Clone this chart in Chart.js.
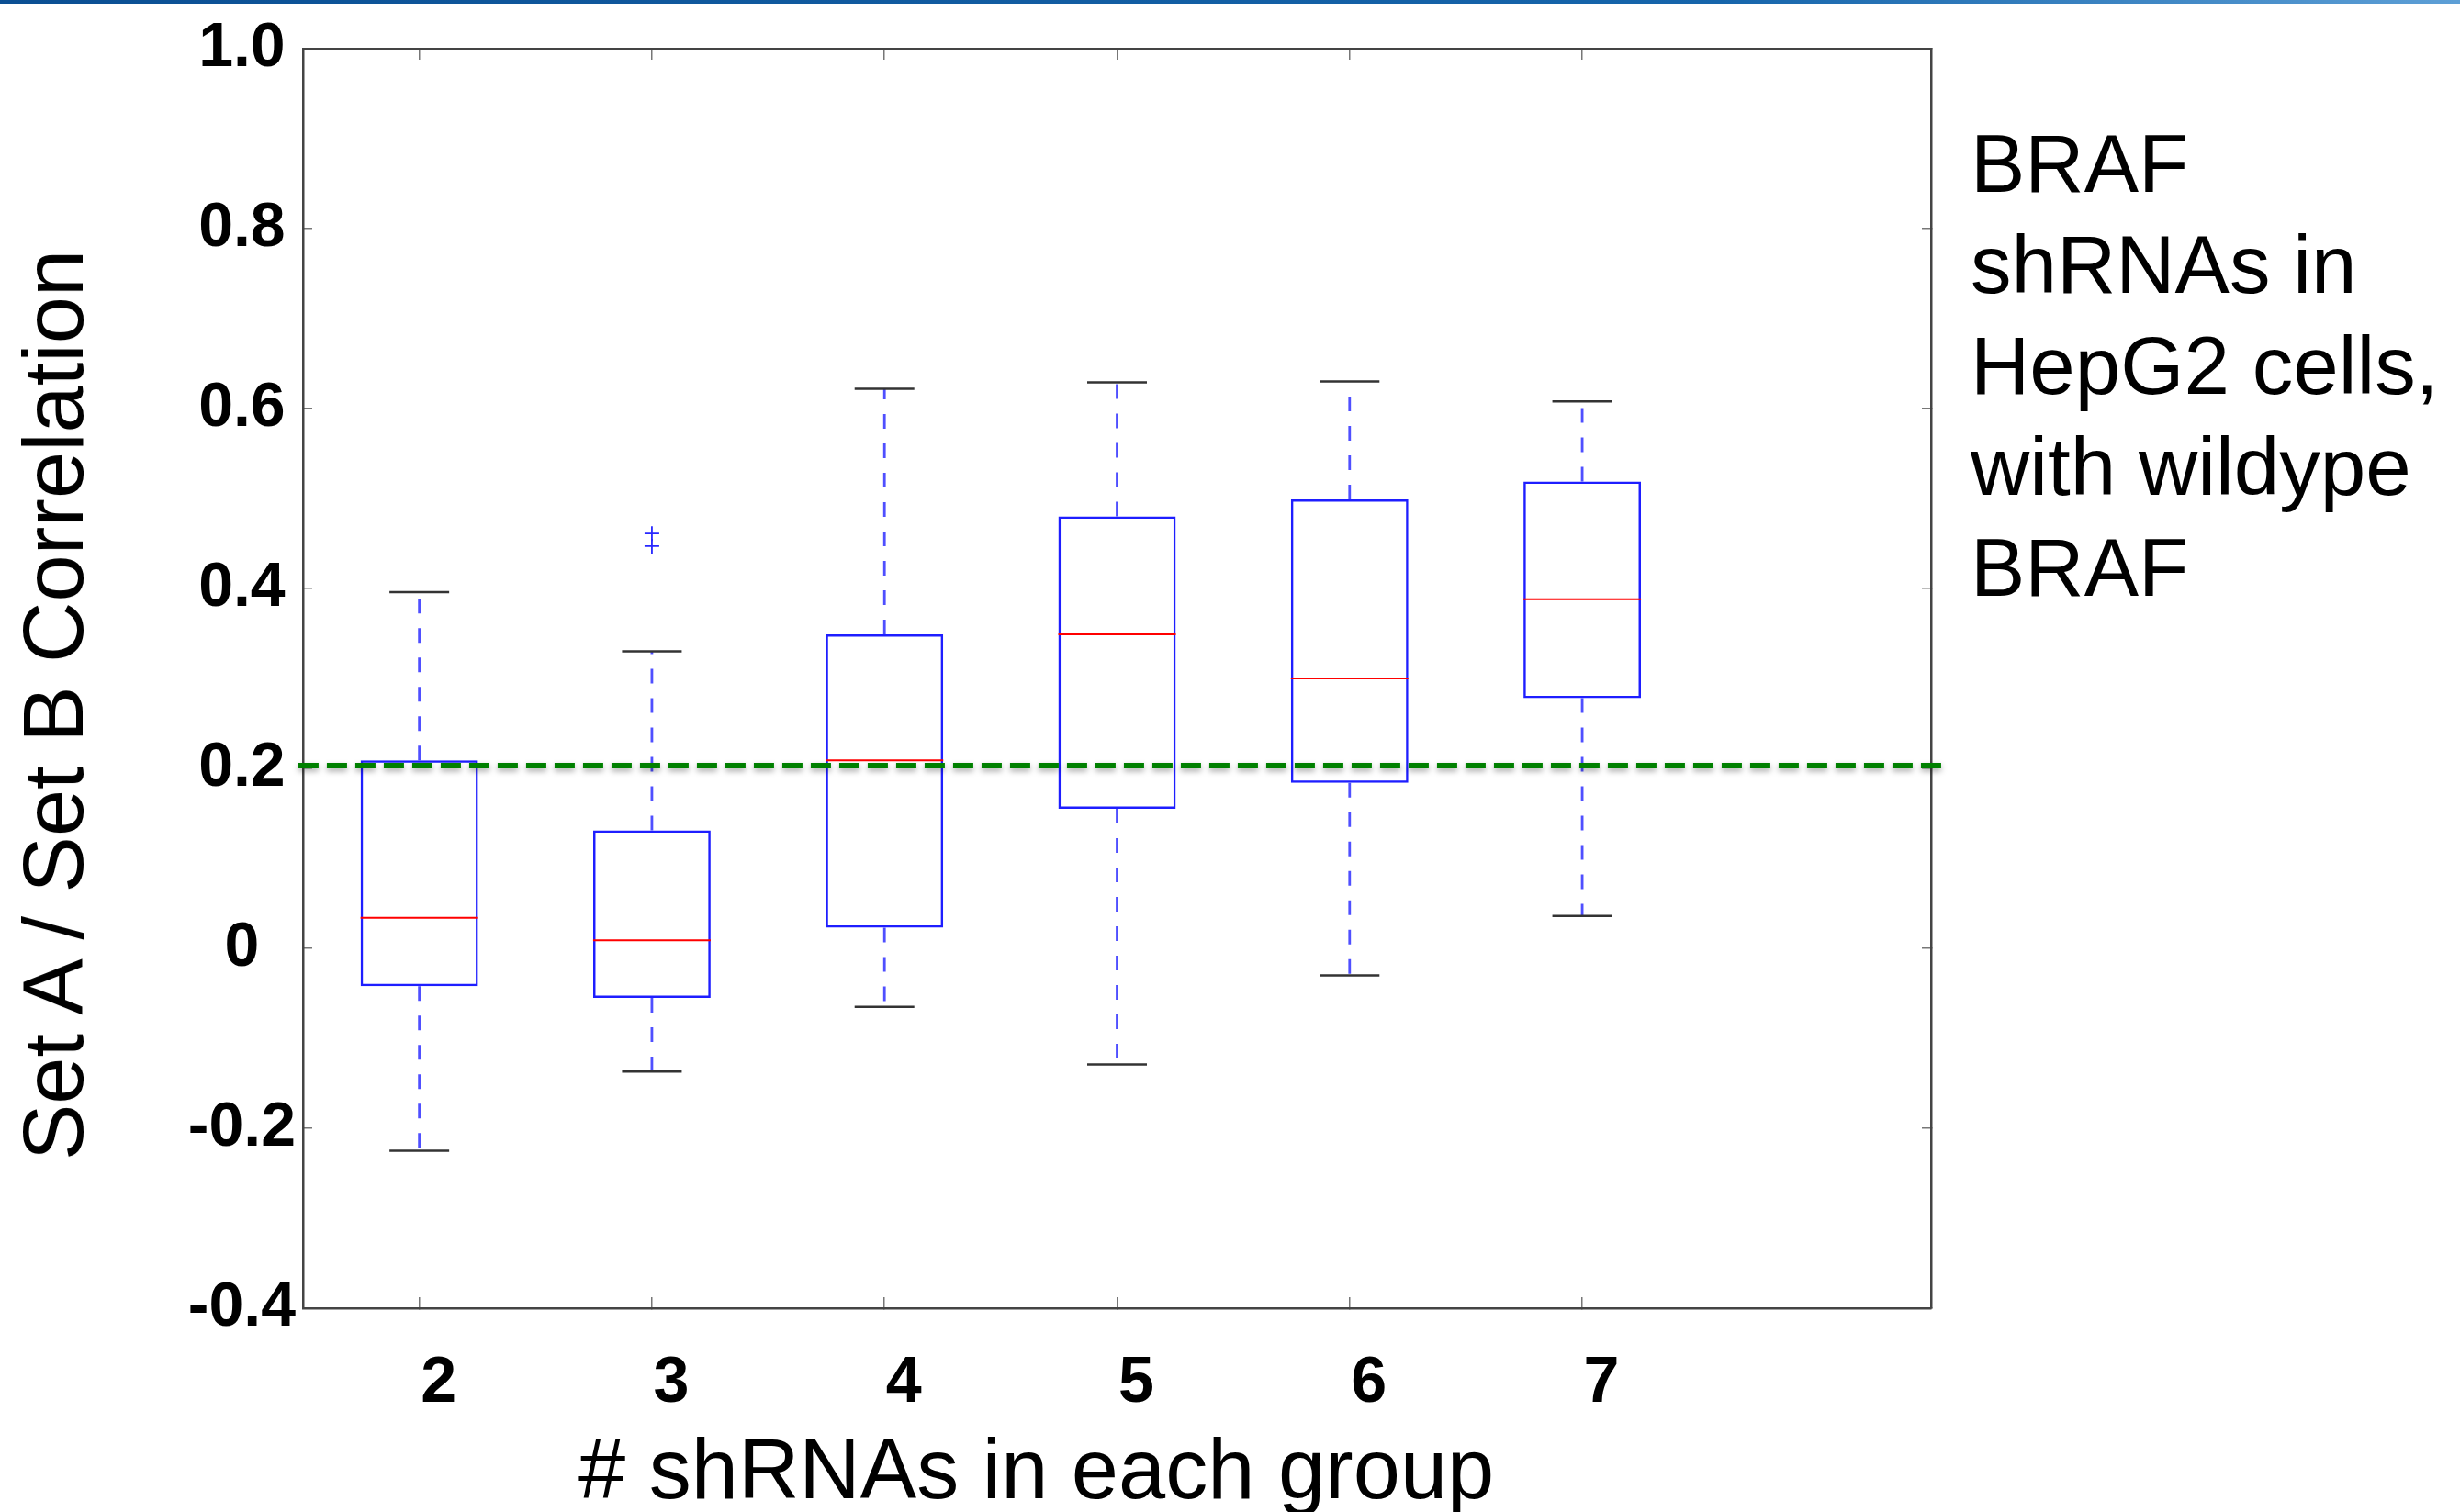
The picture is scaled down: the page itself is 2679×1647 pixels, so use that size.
<!DOCTYPE html>
<html>
<head>
<meta charset="utf-8">
<title>BRAF shRNAs in HepG2 cells</title>
<script src="https://cdn.jsdelivr.net/npm/chart.js@4.4.1/dist/chart.umd.min.js"></script>
<style>
  body { margin: 0; background: #fff; }
  #page { position: relative; width: 2679px; height: 1647px; overflow: hidden; background: #fff;
          font-family: 'Liberation Sans', Arial, sans-serif; color: #000; }
  #topBar { position: absolute; left: 0; top: 0; width: 100%; height: 4px;
            background: linear-gradient(to right, #0b4f93, #1665ab 70%, #5d9fd6); }
  #boxChart { position: absolute; left: 0; top: 0; }
  .label { position: absolute; white-space: nowrap; }
  #xTitle { left: 630px; top: 1554px; font-size: 92px; line-height: 92px; }
  #yTitle { left: 58px; top: 768px; font-size: 92px; line-height: 92px;
            transform: translate(-50%, -50%) rotate(-90deg); }
  #note { left: 2146px; top: 123px; font-size: 89px; line-height: 110px; }
</style>
</head>
<body>
<div id="page">
  <div id="topBar"></div>
  <canvas id="boxChart" width="2679" height="1647"></canvas>
  <div class="label" id="yTitle">Set A / Set B Correlation</div>
  <div class="label" id="xTitle"># shRNAs in each group</div>
  <div class="label" id="note">BRAF<br>shRNAs in<br>HepG2 cells,<br>with wildype<br>BRAF</div>
</div>
<script>
// 데이터
const groups = [2, 3, 4, 5, 6, 7];
const whiskerLow = [-0.225, -0.137, -0.065, -0.129, -0.030, 0.036];
const q1 = [-0.042, -0.055, 0.023, 0.155, 0.184, 0.278];
const medians = [0.034, 0.009, 0.209, 0.349, 0.300, 0.388];
const q3 = [0.209, 0.131, 0.349, 0.480, 0.499, 0.519];
const whiskerHigh = [0.396, 0.330, 0.622, 0.629, 0.630, 0.608];
const outlierGroup = [3, 3];
const outlierValues = [0.461, 0.447];
const threshold = 0.203;
const thresholdSpan = [1.48, 8.57];
const xRange = [1.5, 8.5];
const yTicks = [-0.4, -0.2, 0, 0.2, 0.4, 0.6, 0.8, 1.0];
const yTickLabels = ['-0.4', '-0.2', '0', '0.2', '0.4', '0.6', '0.8', '1.0'];

const ctx = document.getElementById('boxChart').getContext('2d');

// 수염(점선): 상자 끝 -> 끝점, null 로 끊기
const whiskerPoints = [];
groups.forEach((g, i) => {
  whiskerPoints.push({x: g, y: q3[i]}, {x: g, y: whiskerHigh[i]}, {x: g, y: null});
  whiskerPoints.push({x: g, y: q1[i]}, {x: g, y: whiskerLow[i]}, {x: g, y: null});
});

const capPoints = groups.flatMap((g, i) => [{x: g, y: whiskerHigh[i]}, {x: g, y: whiskerLow[i]}]);

const setXTicks = (scale) => { scale.ticks = groups.map(v => ({value: v})); };
const setYTicks = (scale) => { scale.ticks = yTicks.map(v => ({value: v})); };
const noPad = (scale) => {
  scale.paddingTop = 0; scale.paddingBottom = 0;
  scale.paddingLeft = 0; scale.paddingRight = 0;
};

// 기준선 그림자
const lineShadow = {
  id: 'lineShadow',
  beforeDatasetDraw(chart, args) {
    if (chart.data.datasets[args.index].label !== 'threshold') return;
    const c = chart.ctx;
    c.save();
    c.shadowColor = 'rgba(0,0,0,0.35)';
    c.shadowBlur = 6;
    c.shadowOffsetY = 3;
  },
  afterDatasetDraw(chart, args) {
    if (chart.data.datasets[args.index].label !== 'threshold') return;
    chart.ctx.restore();
  }
};

const axisLine = { display: true, color: '#444', width: 2.5 };
const tickFontY = { family: "'Liberation Sans', Arial, sans-serif", size: 68, weight: 'bold' };
const tickFontX = { family: "'Liberation Sans', Arial, sans-serif", size: 70, weight: 'bold' };

new Chart(ctx, {
  type: 'bar',
  data: {
    datasets: [
      {
        label: 'threshold',
        type: 'line',
        data: thresholdSpan.map(x => ({x: x, y: threshold})),
        borderColor: 'rgb(0,128,0)',
        borderWidth: 6,
        borderDash: [22, 9],
        pointRadius: 0,
        clip: false,
        order: 0
      },
      {
        label: 'median',
        type: 'scatter',
        data: groups.map((g, i) => ({x: g, y: medians[i]})),
        pointStyle: 'line',
        pointRadius: 64,
        pointHoverRadius: 64,
        borderColor: 'rgb(255,0,0)',
        borderWidth: 2,
        order: 1
      },
      {
        label: 'outliers',
        type: 'scatter',
        data: outlierGroup.map((g, i) => ({x: g, y: outlierValues[i]})),
        pointStyle: 'cross',
        pointRadius: 8,
        pointHoverRadius: 8,
        borderColor: 'rgb(40,40,255)',
        borderWidth: 1.8,
        order: 2
      },
      {
        label: 'caps',
        type: 'scatter',
        data: capPoints,
        pointStyle: 'line',
        pointRadius: 32.5,
        pointHoverRadius: 32.5,
        borderColor: '#333',
        borderWidth: 2.5,
        order: 3
      },
      {
        label: 'box',
        type: 'bar',
        data: groups.map((g, i) => ({x: g, y: [q1[i], q3[i]]})),
        backgroundColor: 'transparent',
        borderColor: 'rgb(30,30,255)',
        borderWidth: 2.5,
        borderSkipped: false,
        barPercentage: 0.505,
        categoryPercentage: 1,
        order: 4
      },
      {
        label: 'whiskers',
        type: 'line',
        data: whiskerPoints,
        borderColor: 'rgba(60,60,255,0.9)',
        borderWidth: 2.8,
        borderDash: [16, 16],
        pointRadius: 0,
        spanGaps: false,
        order: 5
      }
    ]
  },
  options: {
    responsive: false,
    maintainAspectRatio: false,
    animation: false,
    events: [],
    layout: { autoPadding: false, padding: { top: 53, right: 576, left: 0, bottom: 0 } },
    plugins: {
      legend: { display: false },
      tooltip: { enabled: false }
    },
    scales: {
      x: {
        type: 'linear',
        position: 'bottom',
        min: xRange[0],
        max: xRange[1],
        offset: false,
        afterBuildTicks: setXTicks,
        afterFit: (scale) => { scale.height = 222; noPad(scale); },
        grid: { offset: false, drawOnChartArea: false, tickLength: -12, color: '#777', lineWidth: 1.5 },
        border: axisLine,
        ticks: { font: tickFontX, color: '#000', padding: 53, labelOffset: 21, maxRotation: 0, autoSkip: false,
                 callback: (value) => String(value) }
      },
      x2: {
        type: 'linear',
        position: 'top',
        min: xRange[0],
        max: xRange[1],
        offset: false,
        afterBuildTicks: setXTicks,
        afterFit: (scale) => { scale.height = 0; noPad(scale); },
        grid: { offset: false, drawOnChartArea: false, tickLength: -12, color: '#777', lineWidth: 1.5 },
        border: axisLine,
        ticks: { display: false }
      },
      y: {
        type: 'linear',
        position: 'left',
        min: yTicks[0],
        max: yTicks[yTicks.length - 1],
        afterBuildTicks: setYTicks,
        afterFit: (scale) => { scale.width = 330; noPad(scale); },
        grid: { drawOnChartArea: false, tickLength: -10, color: '#777', lineWidth: 1.5 },
        border: axisLine,
        ticks: { font: tickFontY, color: '#000', padding: 18, crossAlign: 'center', autoSkip: false,
                 callback: (value, index) => yTickLabels[index] }
      },
      y2: {
        type: 'linear',
        position: 'right',
        min: yTicks[0],
        max: yTicks[yTicks.length - 1],
        afterBuildTicks: setYTicks,
        afterFit: (scale) => { scale.width = 0; noPad(scale); },
        grid: { drawOnChartArea: false, tickLength: -10, color: '#777', lineWidth: 1.5 },
        border: axisLine,
        ticks: { display: false }
      }
    }
  },
  plugins: [lineShadow]
});
</script>
</body>
</html>
